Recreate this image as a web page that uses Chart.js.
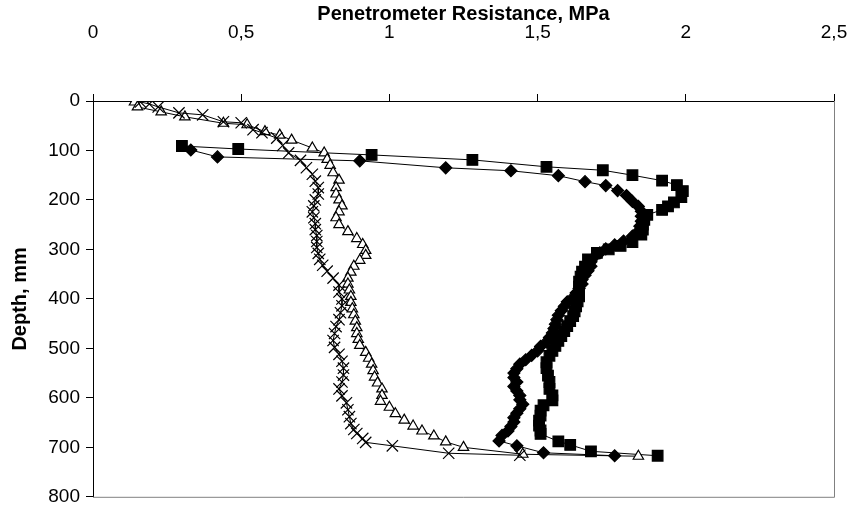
<!DOCTYPE html>
<html>
<head>
<meta charset="utf-8">
<script src="https://cdn.jsdelivr.net/npm/chart.js@4.4.1/dist/chart.umd.min.js"></script>
<style>
  html, body { margin: 0; padding: 0; background: #fff; }
  canvas { display: block; }
</style>
</head>
<body>
<canvas id="myChart" width="853" height="506"></canvas>
<script>
// Valores: resistencia (MPa) y profundidad (mm)
var diamondRes = [0.33, 0.42, 0.90, 1.19, 1.41, 1.57, 1.66, 1.73, 1.77, 1.80, 1.82, 1.84, 1.85, 1.85, 1.85, 1.845, 1.84, 1.82, 1.79, 1.76,
  1.73, 1.71, 1.69, 1.68, 1.68, 1.67, 1.66, 1.65, 1.65, 1.64, 1.63, 1.62, 1.60, 1.59, 1.58, 1.57, 1.565, 1.56, 1.555, 1.55,
  1.54, 1.53, 1.51, 1.50, 1.48, 1.46, 1.44, 1.43, 1.42, 1.42, 1.43, 1.42, 1.43, 1.44, 1.44, 1.45, 1.44, 1.43, 1.42, 1.42,
  1.41, 1.40, 1.38, 1.37, 1.43, 1.52, 1.76];
var diamondDepth = [99, 113, 121, 135, 141, 151, 163, 171, 181, 191, 203, 213, 223, 233, 243, 253, 263, 273, 283, 291,
  299, 307, 316, 325, 334, 343, 352, 361, 370, 379, 388, 397, 406, 415, 424, 433, 442, 451, 460, 469,
  478, 487, 496, 505, 514, 523, 532, 541, 550, 559, 568, 577, 586, 595, 604, 613, 622, 631, 640, 649,
  658, 667, 676, 687, 697, 711, 717];

var squareRes = [0.30, 0.49, 0.94, 1.28, 1.53, 1.72, 1.82, 1.92, 1.97, 1.99, 1.985, 1.96, 1.94, 1.92, 1.87, 1.86, 1.855, 1.855, 1.85, 1.82,
  1.78, 1.74, 1.70, 1.67, 1.66, 1.65, 1.645, 1.64, 1.64, 1.64, 1.64, 1.635, 1.63, 1.625, 1.62, 1.61, 1.60, 1.59, 1.58, 1.57,
  1.56, 1.55, 1.54, 1.53, 1.53, 1.535, 1.54, 1.54, 1.55, 1.55, 1.52, 1.51, 1.51, 1.505, 1.505, 1.51, 1.51, 1.57, 1.61, 1.68,
  1.905];
var squareDepth = [91, 97, 109, 119, 133, 140, 150, 161, 170, 182, 194, 205, 213, 220, 230, 240, 250, 260, 270, 285,
  293, 300, 307, 320, 335, 345, 355, 365, 375, 385, 395, 405, 415, 425, 435, 445, 455, 465, 475, 485,
  495, 505, 515, 528, 540, 555, 568, 582, 595, 605, 615, 626, 636, 646, 656, 666, 673, 688, 695, 708,
  717];

var triangleRes = [0.14, 0.15, 0.23, 0.31, 0.44, 0.52, 0.58, 0.63, 0.67, 0.74, 0.78, 0.79, 0.80, 0.81, 0.83, 0.82, 0.82, 0.83, 0.84, 0.83,
  0.82, 0.83, 0.86, 0.89, 0.91, 0.92, 0.92, 0.90, 0.88, 0.87, 0.86, 0.86, 0.865, 0.87, 0.87, 0.875, 0.88, 0.885, 0.89, 0.89,
  0.895, 0.90, 0.92, 0.93, 0.94, 0.945, 0.95, 0.96, 0.975, 0.975, 0.97, 1.00, 1.02, 1.05, 1.08, 1.11, 1.15, 1.19, 1.25, 1.45,
  1.84];
var triangleDepth = [2, 12, 22, 32, 45, 48, 62, 69, 79, 95, 105, 118, 130, 145, 160, 175, 188, 200, 212, 224,
  236, 250, 264, 278, 290, 302, 312, 322, 334, 346, 358, 370, 382, 395, 407, 420, 432, 445, 458, 470,
  482, 494, 508, 520, 532, 545, 558, 570, 582, 595, 607, 619, 632, 645, 657, 667, 677, 689, 700, 714,
  718];

var crossRes = [0.16, 0.19, 0.22, 0.29, 0.37, 0.44, 0.50, 0.54, 0.57, 0.62, 0.64, 0.66, 0.70, 0.72, 0.74, 0.75, 0.76, 0.76, 0.75, 0.745,
  0.74, 0.745, 0.75, 0.75, 0.755, 0.755, 0.755, 0.76, 0.765, 0.775, 0.79, 0.81, 0.83, 0.83, 0.84, 0.84, 0.835, 0.83, 0.82, 0.815,
  0.81, 0.815, 0.83, 0.84, 0.845, 0.845, 0.84, 0.83, 0.84, 0.855, 0.86, 0.865, 0.87, 0.88, 0.89, 0.91, 0.92, 1.01, 1.20, 1.44];
var crossDepth = [2, 6, 12, 24, 28, 42, 44, 58, 64, 75, 90, 105, 120, 135, 148, 162, 175, 188, 200, 212,
  224, 236, 248, 260, 272, 284, 296, 308, 320, 332, 344, 358, 372, 386, 400, 414, 428, 442, 456, 470,
  484, 498, 512, 526, 540, 554, 568, 582, 596, 610, 624, 638, 652, 664, 672, 682, 690, 697, 712, 716];

var xTicks = [0, 0.5, 1, 1.5, 2, 2.5];
var yTicks = [0, 100, 200, 300, 400, 500, 600, 700, 800];

function puntos(xs, ys) {
  return xs.map(function (v, i) { return { x: v, y: ys[i] }; });
}

var serie = function (data, estilo, radio, relleno) {
  return {
    data: data,
    showLine: true,
    borderColor: '#000',
    borderWidth: 1,
    tension: 0,
    pointStyle: estilo,
    pointRadius: radio,
    pointBackgroundColor: relleno,
    pointBorderColor: '#000',
    pointBorderWidth: 1.2
  };
};

// Borde gris del area de trazado (derecha y abajo)
var bordeGris = {
  id: 'bordeGris',
  afterDraw: function (c) {
    var a = c.chartArea, ctx = c.ctx;
    ctx.save();
    ctx.strokeStyle = '#808080';
    ctx.lineWidth = 1;
    ctx.beginPath();
    ctx.moveTo(a.right + 0.5, a.top);
    ctx.lineTo(a.right + 0.5, a.bottom + 0.5);
    ctx.lineTo(a.left, a.bottom + 0.5);
    ctx.stroke();
    ctx.restore();
  }
};

var chart = document.getElementById('myChart').getContext('2d');
var myChart = new Chart(chart, {
  type: 'scatter',
  data: {
    datasets: [
      serie(puntos(crossRes, crossDepth), 'crossRot', 8, '#000'),
      serie(puntos(triangleRes, triangleDepth), 'triangle', 6, '#fff'),
      serie(puntos(squareRes, squareDepth), 'rect', 7.5, '#000'),
      serie(puntos(diamondRes, diamondDepth), 'rectRot', 6, '#000')
    ]
  },
  options: {
    responsive: false,
    animation: false,
    devicePixelRatio: 1,
    layout: { padding: { left: 0, top: 0, right: 19, bottom: 8 } },
    plugins: { legend: { display: false }, tooltip: { enabled: false } },
    scales: {
      x: {
        type: 'linear',
        position: 'top',
        min: 0,
        max: 2.5,
        afterBuildTicks: function (s) { s.ticks = xTicks.map(function (v) { return { value: v }; }); },
        afterFit: function (s) { s.height = 101; s.paddingLeft = 0; s.paddingRight = 0; },
        ticks: {
          color: '#000',
          padding: 50,
          font: { family: 'Liberation Sans, Arial', size: 19 },
          callback: function (v) { return String(v).replace('.', ','); }
        },
        grid: { drawOnChartArea: false, drawTicks: true, tickLength: 7, color: '#000' },
        border: { display: true, color: '#000', width: 1 },
        title: {
          display: true,
          text: 'Penetrometer Resistance, MPa',
          color: '#000',
          padding: { top: 2, bottom: 0 },
          font: { family: 'Liberation Sans, Arial', size: 20, weight: 'bold' }
        }
      },
      y: {
        type: 'linear',
        reverse: true,
        min: 0,
        max: 800,
        afterBuildTicks: function (s) { s.ticks = yTicks.map(function (v) { return { value: v }; }); },
        afterFit: function (s) { s.width = 93; s.paddingTop = 0; s.paddingBottom = 0; },
        ticks: {
          color: '#000',
          padding: 6,
          font: { family: 'Liberation Sans, Arial', size: 19 }
        },
        grid: { drawOnChartArea: false, drawTicks: true, tickLength: 7, color: '#000' },
        border: { display: true, color: '#000', width: 1 },
        title: {
          display: true,
          text: 'Depth, mm',
          color: '#000',
          padding: { top: 8, bottom: 0 },
          font: { family: 'Liberation Sans, Arial', size: 20, weight: 'bold' }
        }
      }
    }
  },
  plugins: [bordeGris]
});
</script>
</body>
</html>
